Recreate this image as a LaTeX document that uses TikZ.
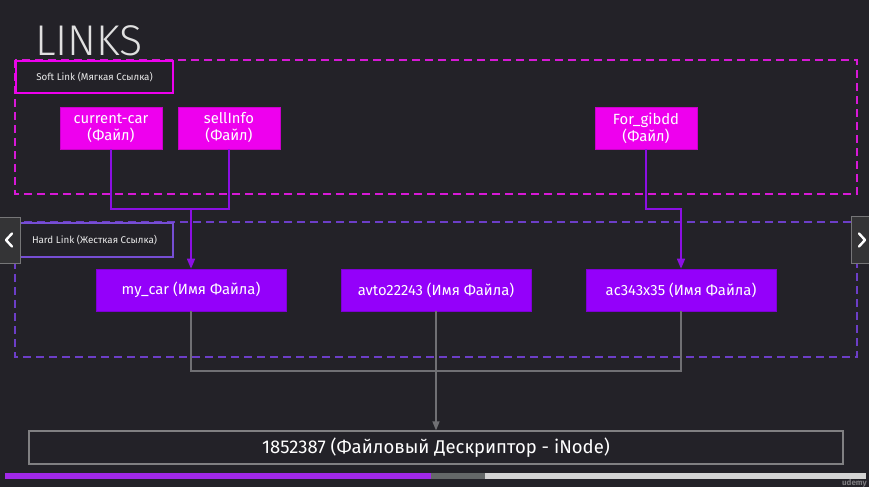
\documentclass[tikz,border=0pt]{standalone}
\usepackage{fontspec}
\setmainfont{Fira Sans}
\newfontfamily\titlefont{Fira Sans Light}
\usetikzlibrary{arrows.meta}

\definecolor{slidebg}{RGB}{35,34,40}
\definecolor{softpink}{RGB}{238,0,238}
\definecolor{softdash}{RGB}{215,25,215}
\definecolor{softwirec}{RGB}{140,15,228}
\definecolor{hardfill}{RGB}{148,0,250}
\definecolor{harddash}{RGB}{108,62,200}
\definecolor{hardlabel}{RGB}{118,78,212}
\definecolor{graywire}{RGB}{112,112,116}
\definecolor{inodeedge}{RGB}{128,128,130}
\definecolor{navfill}{RGB}{52,52,54}
\definecolor{navedge}{RGB}{118,118,120}
\definecolor{barplayed}{RGB}{160,40,232}
\definecolor{barbuffer}{RGB}{100,104,104}
\definecolor{barrest}{RGB}{212,212,212}

\tikzset{
  softbox/.style={fill=softpink, draw=softpink!85!black, line width=0.6pt,
    minimum width=102pt, minimum height=42pt, inner sep=0pt,
    text=white, font=\fontsize{14.8}{17}\selectfont, align=center},
  hardbox/.style={fill=hardfill, draw=hardfill!85!black, line width=0.6pt,
    minimum width=190pt, minimum height=42pt, inner sep=0pt,
    text=white, font=\fontsize{14.8}{17}\selectfont},
  grouplabel/.style={line width=2pt, minimum width=157pt, inner sep=0pt,
    text=white!92!black, font=\fontsize{9.8}{11}\selectfont},
  softwire/.style={draw=softwirec, line width=1.6pt},
  hardwire/.style={draw=graywire, line width=1.3pt},
  softtip/.style={-{Triangle[length=10pt,width=8pt]}},
  graytip/.style={-{Triangle[length=9pt,width=7pt]}},
}

\begin{document}
\begin{tikzpicture}[x=1pt,y=-1pt]
  % page and background
  \fill[slidebg] (0,0) rectangle (869,487);
  \useasboundingbox (0,0) rectangle (869,487);

  % title
  \node[anchor=base west, inner sep=0pt, text=white!88!black,
        font=\titlefont\fontsize{43}{43}\selectfont] (title) at (35,56) {LINKS};

  % group frames
  \draw[softdash, line width=1.8pt, dash pattern=on 8pt off 5pt]
       (15,60) rectangle (857,194);
  \draw[harddash, line width=1.8pt, dash pattern=on 8pt off 5pt]
       (15,222) rectangle (857,357);

  \node[grouplabel, draw=softpink, fill=slidebg, minimum height=32pt, anchor=north west]
       (softlabel) at (15,60) {Soft Link (Мягкая Ссылка)};
  \node[grouplabel, draw=hardlabel, fill=slidebg, minimum height=34pt, anchor=north west]
       (hardlabel) at (15,222) {Hard Link (Жесткая Ссылка)};

  % soft links
  \node[softbox] (cc) at (111,128) {current-car\\(Файл)};
  \node[softbox] (si) at (229,128) {sellInfo\\(Файл)};
  \node[softbox] (fg) at (646,128) {For\_gibdd\\(Файл)};

  % hard links
  \node[hardbox] (mc) at (191,290) {my\_car (Имя Файла)};
  \node[hardbox] (av) at (436,290) {avto22243 (Имя Файла)};
  \node[hardbox] (ac) at (681,290) {ac343x35 (Имя Файла)};

  % inode
  \node[draw=inodeedge, line width=1.2pt, minimum width=814pt, minimum height=33pt,
        inner sep=0pt, text=white, font=\fontsize{18.5}{21}\selectfont]
       (inode) at (436,447.5) {1852387 (Файловый Дескриптор - iNode)};

  % soft link wiring
  \coordinate (softlevel) at (0,209);
  \coordinate (sj) at (mc.north |- softlevel);
  \coordinate (fj) at (ac.north |- softlevel);
  \draw[softwire] (cc.south) |- (sj) -| (si.south);
  \draw[softwire, softtip] (sj) -- (mc.north);
  \draw[softwire, softtip] (fg.south) |- (fj) -- (ac.north);

  % hard link wiring
  \coordinate (hardlevel) at (0,371);
  \draw[hardwire] (mc.south) |- (mc.south |- hardlevel) -| (ac.south);
  \draw[hardwire, graytip] (av.south) -- (inode.north);

  % slide navigation buttons
  \draw[navedge, fill=navfill, line width=0.8pt] (-2,217) rectangle (20,263);
  \draw[white, line width=2.4pt, line cap=round, line join=round]
       (12,233.5) -- (6,240) -- (12,246.5);
  \draw[navedge, fill=navfill, line width=0.8pt] (851,216) rectangle (872,263);
  \draw[white, line width=2.4pt, line cap=round, line join=round]
       (859,233.5) -- (865,240) -- (859,246.5);

  % progress bar
  \fill[barplayed] (5,473) rectangle (431,478.5);
  \fill[barbuffer] (431,473) rectangle (485,478.5);
  \fill[barrest] (485,473) rectangle (866,478.5);

  % watermark
  \node[anchor=base east, inner sep=0pt, text=white!40!slidebg,
        font=\bfseries\fontsize{8}{8}\selectfont] (mark) at (867,485.5) {udemy};
\end{tikzpicture}
\end{document}
